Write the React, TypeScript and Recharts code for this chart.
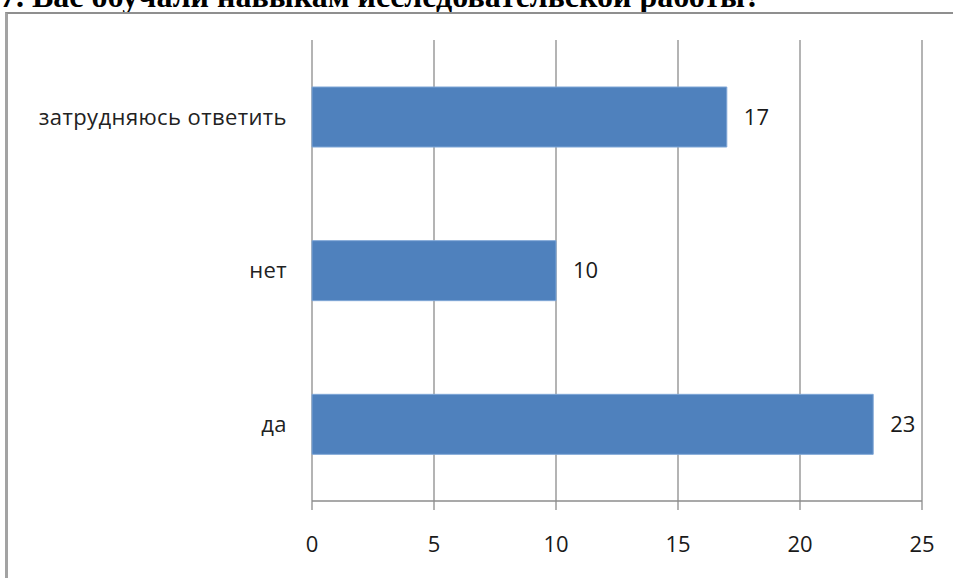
import React from 'react';
import { BarChart, Bar, XAxis, YAxis, CartesianGrid, LabelList } from 'recharts';

const categories = ['затрудняюсь ответить', 'нет', 'да'];
const counts = [17, 10, 23];
const xTicks = [0, 5, 10, 15, 20, 25];
const bandTicks = [0, 1, 2, 3];

const data = categories.map((name, i) => ({ name, value: counts[i] }));

const GRID = '#8c8c8c';

export default function App() {
  return (
    <div
      style={{
        position: 'absolute',
        left: 0,
        top: 0,
        width: 953,
        height: 578,
        overflow: 'hidden',
        background: '#fff',
        fontFamily: '"Open Sans", sans-serif',
      }}
    >
      {/* title, cut off at the top like the scan */}
      <div
        style={{
          position: 'absolute',
          left: 0,
          top: -20,
          whiteSpace: 'nowrap',
          fontFamily: '"Liberation Serif", serif',
          fontWeight: 'bold',
          fontSize: 32,
          lineHeight: 1,
          color: '#000',
        }}
      >
        7. Вас обучали навыкам исследовательской работы?
      </div>

      {/* chart frame */}
      <div
        style={{
          position: 'absolute',
          left: 5,
          top: 12,
          width: 1000,
          height: 1000,
          borderLeft: '3px solid #a3a3a3',
          borderTop: '2px solid #8f8f8f',
        }}
      />

      <div style={{ position: 'absolute', left: 0, top: 0 }}>
        <BarChart
          width={953}
          height={578}
          data={data}
          layout="vertical"
          margin={{ top: 40, right: 31, left: 0, bottom: 0 }}
        >
          <CartesianGrid horizontal={false} stroke={GRID} strokeWidth={1.3} />
          <XAxis
            type="number"
            domain={[0, 25]}
            ticks={xTicks}
            height={77}
            tickSize={9}
            tickMargin={26}
            axisLine={{ stroke: GRID, strokeWidth: 1.3 }}
            tickLine={{ stroke: GRID, strokeWidth: 1.3 }}
            tick={{ fill: '#1a1a1a', fontSize: 22 }}
          />
          <YAxis
            yAxisId="band"
            type="number"
            domain={[0, 3]}
            ticks={bandTicks}
            width={0}
            tickSize={10}
            tick={false}
            axisLine={{ stroke: GRID, strokeWidth: 1.3 }}
            tickLine={{ stroke: GRID, strokeWidth: 1.3 }}
          />
          <YAxis
            yAxisId="cat"
            type="category"
            dataKey="name"
            width={312}
            tickSize={0}
            tickMargin={25}
            axisLine={false}
            tickLine={false}
            tick={{ fill: '#222', fontSize: 22, letterSpacing: 0.4 }}
          />
          <Bar
            yAxisId="cat"
            dataKey="value"
            fill="#4f81bd"
            stroke="#7fa6d6"
            strokeWidth={1}
            barSize={60}
            isAnimationActive={false}
          >
            <LabelList dataKey="value" position="right" offset={17} fill="#1a1a1a" fontSize={22} />
          </Bar>
        </BarChart>
      </div>
    </div>
  );
}
